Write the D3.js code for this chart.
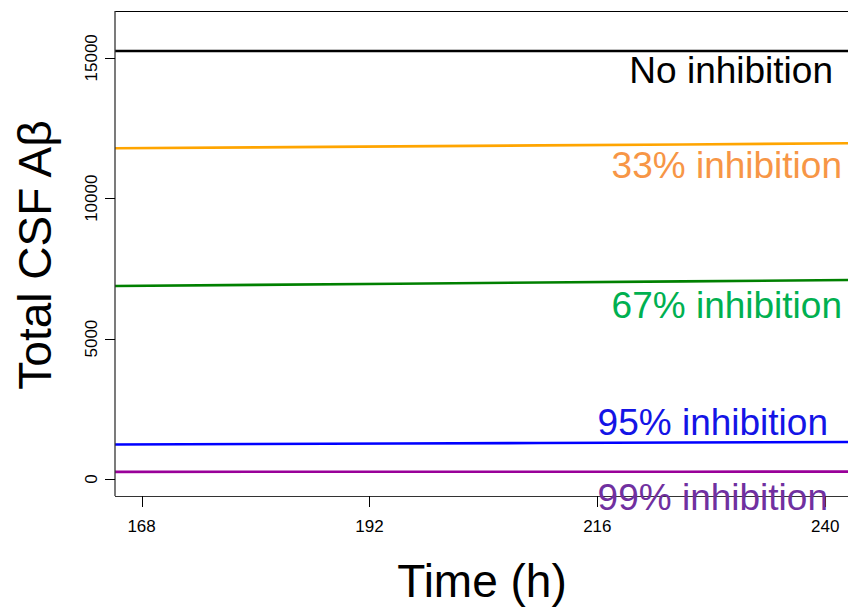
<!DOCTYPE html>
<html>
<head>
<meta charset="utf-8">
<script src="https://cdn.jsdelivr.net/npm/d3@7"></script>
<style>
  html, body { margin: 0; padding: 0; background: #fff; }
  svg { display: block; font-family: "Liberation Sans", Arial, sans-serif; }
</style>
</head>
<body>
<svg id="chart" width="848" height="607"></svg>
<script>
// Simulated total CSF Aβ over time for several levels of production inhibition
const hours = [165.2, 180, 195, 210, 225, 242.4];
const noInhibition = [15240, 15240, 15240, 15240, 15240, 15240];
const inhib33 = [11777, 11811, 11846, 11880, 11915, 11955];
const inhib67 = [6873, 6914, 6956, 6998, 7039, 7087];
const inhib95 = [1229, 1246, 1263, 1281, 1298, 1318];
const inhib99 = [255, 257, 258, 259, 261, 262];

const seriesNames = ["No inhibition", "33% inhibition", "67% inhibition", "95% inhibition", "99% inhibition"];
const seriesValues = [noInhibition, inhib33, inhib67, inhib95, inhib99];
const lineColors = ["#000000", "#FFA500", "#008000", "#0000FF", "#990099"];
const labelColors = ["#000000", "#F79646", "#00B050", "#1414E6", "#7030A0"];

const xTicks = [168, 192, 216, 240];
const yTicks = [0, 5000, 10000, 15000];

const svg = d3.select("#chart");
const plotLeft = 115, plotRight = 848, plotTop = 11, plotBottom = 496;

const x = d3.scaleLinear().domain([165.2, 242.4]).range([plotLeft, plotRight]);
const y = d3.scaleLinear().domain([-605, 16667]).range([plotBottom, plotTop]);

svg.append("defs").append("clipPath").attr("id", "plotClip")
  .append("rect").attr("x", plotLeft).attr("y", plotTop)
  .attr("width", plotRight - plotLeft).attr("height", plotBottom - plotTop);

// Series lines
const line = d3.line().x((d, i) => x(hours[i])).y(d => y(d));
const lineG = svg.append("g").attr("clip-path", "url(#plotClip)");
seriesValues.forEach((vals, k) => {
  lineG.append("path")
    .datum(vals)
    .attr("d", line)
    .attr("fill", "none")
    .attr("stroke", lineColors[k])
    .attr("stroke-width", 2.6);
});

// Frame: top border, left and bottom axis lines
svg.append("line").attr("x1", plotLeft).attr("x2", plotRight).attr("y1", plotTop + 0.5).attr("y2", plotTop + 0.5)
  .attr("stroke", "#000").attr("stroke-width", 1);
svg.append("line").attr("x1", plotLeft).attr("x2", plotLeft).attr("y1", plotTop).attr("y2", plotBottom)
  .attr("stroke", "#333").attr("stroke-width", 1.3);
svg.append("line").attr("x1", plotLeft).attr("x2", plotRight).attr("y1", plotBottom + 0.5).attr("y2", plotBottom + 0.5)
  .attr("stroke", "#333").attr("stroke-width", 1);

// X axis ticks and labels
const xAxis = svg.append("g");
xTicks.forEach(t => {
  xAxis.append("line").attr("x1", Math.round(x(t)) + 0.5).attr("x2", Math.round(x(t)) + 0.5)
    .attr("y1", plotBottom).attr("y2", plotBottom + 11).attr("stroke", "#000");
  xAxis.append("text").attr("x", x(t)).attr("y", 532)
    .attr("text-anchor", "middle").attr("font-size", 17).attr("fill", "#000")
    .text(t);
});

// Y axis ticks and rotated labels
const yAxis = svg.append("g");
yTicks.forEach(t => {
  yAxis.append("line").attr("x1", plotLeft - 10).attr("x2", plotLeft)
    .attr("y1", Math.round(y(t)) + 0.5).attr("y2", Math.round(y(t)) + 0.5).attr("stroke", "#000");
  yAxis.append("text")
    .attr("transform", `translate(97,${y(t)}) rotate(-90)`)
    .attr("text-anchor", "middle").attr("font-size", 17).attr("fill", "#000")
    .text(t);
});

// Series labels
const labelPos = [
  { x: 833, y: 83 },
  { x: 842, y: 178 },
  { x: 842, y: 318 },
  { x: 828, y: 435 },
  { x: 828, y: 510 }
];
seriesNames.forEach((name, k) => {
  svg.append("text")
    .attr("x", labelPos[k].x).attr("y", labelPos[k].y)
    .attr("text-anchor", "end").attr("font-size", 37)
    .attr("fill", labelColors[k])
    .text(name);
});

// Axis titles
svg.append("text").attr("x", 482).attr("y", 597)
  .attr("text-anchor", "middle").attr("font-size", 46).attr("fill", "#000")
  .text("Time (h)");
svg.append("text")
  .attr("transform", "translate(51,255) rotate(-90)")
  .attr("text-anchor", "middle").attr("font-size", 46).attr("fill", "#000")
  .text("Total CSF Aβ");
</script>
</body>
</html>
